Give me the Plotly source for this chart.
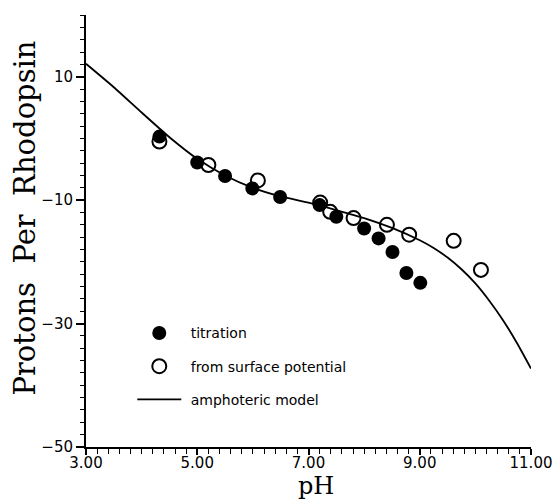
import plotly.graph_objects as go

# titration (filled circles)
titr_ph = [4.32, 5.00, 5.50, 5.99, 6.49, 7.20, 7.50, 8.00, 8.26, 8.51, 8.76, 9.01]
titr_h = [0.3, -3.9, -6.1, -8.1, -9.5, -10.8, -12.7, -14.6, -16.2, -18.4, -21.8, -23.4]

# from surface potential (open circles)
surf_ph = [4.32, 5.20, 6.09, 7.21, 7.39, 7.81, 8.41, 8.81, 9.61, 10.10]
surf_h = [-0.5, -4.3, -6.8, -10.4, -11.9, -12.9, -14.0, -15.6, -16.6, -21.3]

# amphoteric model curve
model_ph = [3.0, 3.5, 4.0, 4.5, 5.0, 5.5, 6.0, 6.5, 7.0, 7.5, 8.0, 8.5, 9.0,
            9.25, 9.5, 9.75, 10.0, 10.25, 10.5, 10.75, 11.0]
model_h = [12.1, 8.3, 4.2, 0.2, -3.3, -6.0, -8.0, -9.4, -10.4, -11.6, -12.9, -14.5, -16.5,
           -17.75, -19.3, -21.2, -23.5, -26.3, -29.5, -33.2, -37.3]

x_ticks = [3, 5, 7, 9, 11]
x_tick_labels = ["3.00", "5.00", "7.00", "9.00", "11.00"]
y_ticks = [10, -10, -30, -50]
y_tick_labels = ["10", "\u221210", "\u221230", "\u221250"]

fig = go.Figure()
fig.add_trace(go.Scatter(
    x=titr_ph, y=titr_h, mode="markers", name="\u00a0titration",
    legendgroup="a",
    marker=dict(symbol="circle", size=14, color="black"),
))
fig.add_trace(go.Scatter(
    x=surf_ph, y=surf_h, mode="markers", name="\u00a0from surface potential",
    legendgroup="b",
    marker=dict(symbol="circle-open", size=14, color="black", line=dict(width=2, color="black")),
))
fig.add_trace(go.Scatter(
    x=model_ph, y=model_h, mode="lines", name="\u00a0amphoteric model",
    legendgroup="c",
    line=dict(color="black", width=1.8, shape="spline", smoothing=0.5),
))

fig.update_layout(
    width=555, height=499,
    margin=dict(l=86, r=24, t=15, b=52),
    paper_bgcolor="white", plot_bgcolor="white",
    font=dict(family="DejaVu Sans", color="black"),
    legend=dict(
        x=0.104, y=0.30, xanchor="left", yanchor="top",
        bgcolor="rgba(0,0,0,0)", tracegroupgap=12,
        font=dict(family="DejaVu Sans", size=14, color="black"),
        itemwidth=44,
    ),
    showlegend=True,
    annotations=[
        dict(text="pH", xref="paper", yref="paper", x=0.516, y=-0.091,
             xanchor="center", yanchor="middle", showarrow=False, borderpad=0,
             font=dict(family="DejaVu Serif", size=24, color="black")),
        dict(text="Protons  Per  Rhodopsin", xref="paper", yref="paper",
             x=-0.137, y=0.529, xanchor="center", yanchor="middle", textangle=-90,
             showarrow=False, borderpad=0,
             font=dict(family="DejaVu Serif", size=29, color="black")),
    ],
)
fig.update_xaxes(
    range=[3, 11], showgrid=False, zeroline=False, automargin=False,
    showline=True, linecolor="black", linewidth=2,
    ticks="outside", ticklen=6, tickwidth=1.5, tickcolor="black",
    tickvals=x_ticks, ticktext=x_tick_labels, ticklabelstandoff=-5,
    tickfont=dict(family="DejaVu Sans", size=15, color="black"),
    minor=dict(dtick=0.2, tick0=3, ticks="outside", ticklen=5, tickwidth=1.2, tickcolor="black"),
)
fig.update_yaxes(
    range=[-50, 20], showgrid=False, zeroline=False, automargin=False,
    showline=True, linecolor="black", linewidth=2,
    ticks="outside", ticklen=8, tickwidth=1.5, tickcolor="black",
    tickvals=y_ticks, ticktext=y_tick_labels,
    tickfont=dict(family="DejaVu Sans", size=15, color="black"),
    minor=dict(dtick=2, tick0=-50, ticks="outside", ticklen=4, tickwidth=1.2, tickcolor="black"),
)

fig.write_html("out.html", config={"displayModeBar": False},
               post_script="document.body.style.margin='0px';")
